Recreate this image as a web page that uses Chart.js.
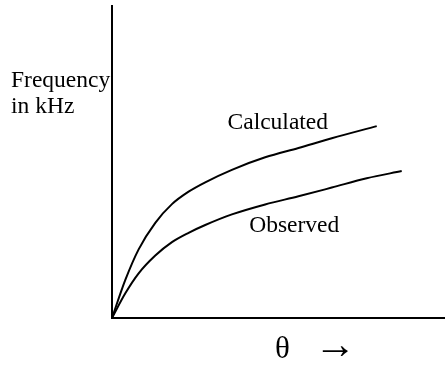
<!DOCTYPE html>
<html lang="en">

<head>
    <meta charset="UTF-8">
    <title>Frequency vs theta</title>
    <script src="https://cdn.jsdelivr.net/npm/chart.js"></script>
    <style>
        html, body { margin: 0; padding: 0; background: #fff; }
        #grafico { display: block; }
    </style>
</head>

<body>
    <canvas id="grafico" width="445" height="367"></canvas>

    <script>
        // curve samples (theta on 0..100, frequency on 0..100, arbitrary units)
        var thetaCalc = [0, 4, 8, 13, 18, 23, 28, 36, 46, 56, 66, 79.5]
        var freqCalc = [0, 12.2, 22, 30.5, 36.5, 40.5, 43.5, 47.5, 51.5, 54.5, 57.6, 61.5]

        var thetaObs = [0, 4, 8, 13, 18, 23, 28, 36, 46, 56, 66, 76.5, 87]
        var freqObs = [0, 7.9, 14.3, 20, 24.3, 27.3, 29.8, 33.2, 36.4, 39, 41.8, 44.8, 47.1]

        // curve names and where they are written (data units)
        var nomes = ['Calculated', 'Observed']
        var posNomes = [[34.7, 60.5], [41.2, 27.7]]

        var yTitulo = ['Frequency', 'in kHz']
        var xSimbolo = 'θ'
        var xSeta = '→'

        function pontos(xs, ys) {
            return xs.map(function (x, i) { return { x: x, y: ys[i] } })
        }

        function serie(xs, ys) {
            return {
                data: pontos(xs, ys),
                borderColor: '#000',
                borderWidth: 2,
                pointRadius: 0,
                cubicInterpolationMode: 'monotone',
                fill: false,
                clip: false
            }
        }

        // texts: curve names, y label and x label
        const textos = {
            id: 'textos',
            afterDraw(chart) {
                const ctx = chart.ctx
                const sx = chart.scales.x
                const sy = chart.scales.y
                const serif = '"Liberation Serif", "Times New Roman", serif'
                ctx.save()
                ctx.fillStyle = '#000'
                ctx.textBaseline = 'alphabetic'
                ctx.textAlign = 'left'
                ctx.font = '23.5px ' + serif
                nomes.forEach(function (n, i) {
                    ctx.fillText(n, sx.getPixelForValue(posNomes[i][0]), sy.getPixelForValue(posNomes[i][1]))
                })
                ctx.fillText(yTitulo[0], 11, 87)
                ctx.fillText(yTitulo[1], 11, 113)
                ctx.font = '31px ' + serif
                ctx.fillText(xSimbolo, 275, 358)
                ctx.font = '42px ' + serif
                ctx.fillText(xSeta, 314, 358)
                ctx.restore()
            }
        }

        new Chart(document.getElementById('grafico'), {
            type: 'line',
            data: {
                datasets: [serie(thetaCalc, freqCalc), serie(thetaObs, freqObs)]
            },
            options: {
                responsive: false,
                animation: false,
                layout: { padding: { left: 112, top: 6, right: 0, bottom: 49 } },
                plugins: { legend: { display: false }, tooltip: { enabled: false } },
                scales: {
                    x: {
                        type: 'linear', min: 0, max: 100,
                        ticks: { display: false },
                        grid: { display: false },
                        border: { display: true, color: '#000', width: 2 },
                        afterFit: function (s) { s.height = 0 }
                    },
                    y: {
                        type: 'linear', min: 0, max: 100,
                        ticks: { display: false },
                        grid: { display: false },
                        border: { display: true, color: '#000', width: 2 },
                        afterFit: function (s) { s.width = 0 }
                    }
                }
            },
            plugins: [textos]
        })
    </script>
</body>

</html>
